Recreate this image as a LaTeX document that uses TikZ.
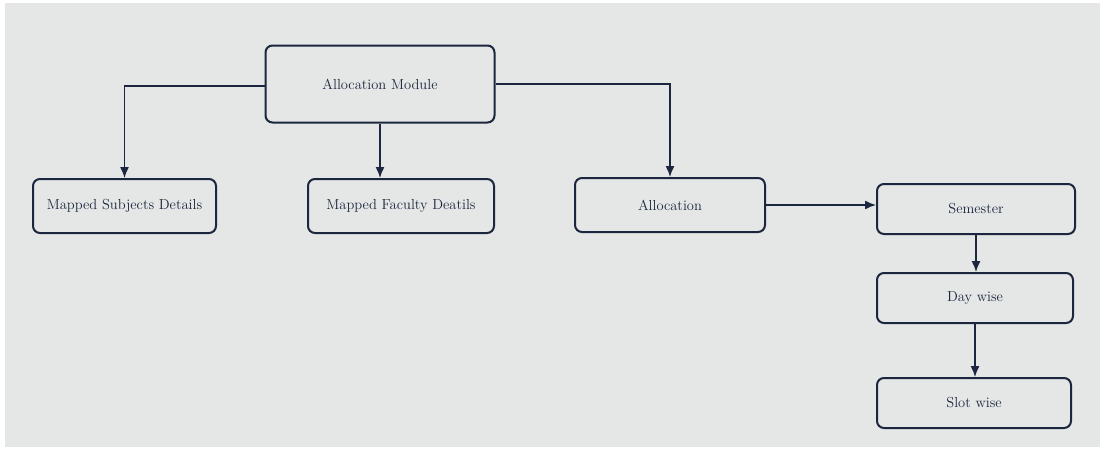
\documentclass[tikz,border=0pt]{standalone}
\usetikzlibrary{arrows.meta}
\definecolor{screen}{RGB}{228,231,229}
\definecolor{ink}{RGB}{28,38,62}
\tikzset{
  box/.style={draw=ink,line width=2pt,rounded corners=7pt,text=ink,
    font=\fontsize{14.5}{17}\selectfont,inner sep=0pt},
  link/.style={draw=ink,line width=1.4pt,->}
}
\begin{document}
\begin{tikzpicture}[x=1pt,y=-1pt,>={Latex[length=11pt,width=9pt]}]
        % screen background
        \fill[white] (0,0) rectangle (1103,450);
        \fill[screen] (5,3) rectangle (1100,447);

        % the boxes
        \node[box,minimum width=229pt,minimum height=77pt] (module) at (380,84) {Allocation Module};
        \node[box,minimum width=183pt,minimum height=54pt] (subjects) at (124.5,206) {Mapped Subjects Details};
        \node[box,minimum width=186pt,minimum height=54pt] (faculty) at (401,206) {Mapped Faculty Deatils};
        \node[box,minimum width=190pt,minimum height=54pt] (alloc) at (670,205) {Allocation};
        \node[box,minimum width=198pt,minimum height=50pt] (sem) at (976,209) {Semester};
        \node[box,minimum width=196pt,minimum height=50pt] (day) at (975,298) {Day wise};
        \node[box,minimum width=194pt,minimum height=50pt] (slot) at (974,403) {Slot wise};

        % the links
        \draw[link] (module.west |- 0,86) -| (subjects.north);
        \draw[link] (module.south -| 380,0) -- (faculty.north -| 380,0);
        \draw[link] (module.east) -| (alloc.north);
        \draw[link] (alloc.east) -- (sem.west |- alloc.east);
        \draw[link] (sem.south) -- (day.north -| sem.south);
        \draw[link] (day.south) -- (slot.north -| day.south);

\end{tikzpicture}
\end{document}
